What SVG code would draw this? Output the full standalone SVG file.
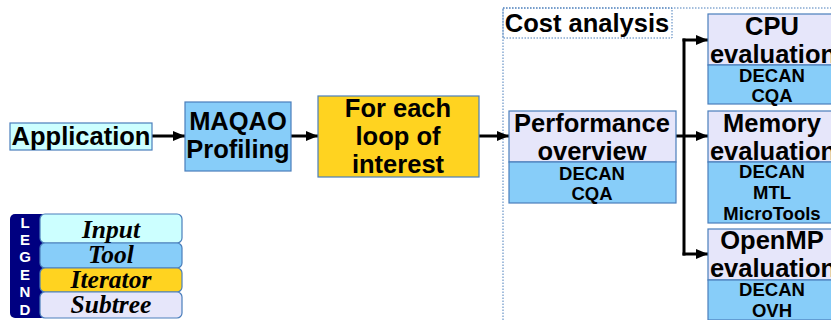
<svg xmlns="http://www.w3.org/2000/svg" width="831" height="320" viewBox="0 0 831 320">
<defs>
<marker id="ah" markerWidth="12" markerHeight="10" refX="12" refY="5" orient="auto" markerUnits="userSpaceOnUse"><path d="M0,0 L12,5 L0,10 z" fill="#000"/></marker>
<style>
.b{stroke:#4a7ebb;stroke-width:1.2}
.in{fill:#ccffff}.tool{fill:#87cdf9}.it{fill:#ffd320}.sub{fill:#e6e6fa}
.t{font-family:"Liberation Sans",Arial,sans-serif;font-weight:bold;fill:#000;text-anchor:middle}
.big{font-size:25.5px}.sm{font-size:18.5px}
.lg{font-family:"Liberation Serif","Times New Roman",serif;font-weight:bold;font-style:italic;font-size:25.5px;text-anchor:middle}
.lt{font-family:"Liberation Sans",Arial,sans-serif;font-weight:bold;font-size:15px;fill:#fff;text-anchor:middle}
.c{stroke:#000;stroke-width:3;fill:none}
.dot{stroke:#4a7ebb;stroke-width:1;stroke-dasharray:1.5 1.5;fill:none}
</style>
</defs>
<g id="cost-region">
<path class="dot" d="M503,320 V8 H831"/>
<rect class="dot" x="503" y="8" width="169" height="30"/>
<text class="t big" x="587" y="32">Cost analysis</text>
</g>
<g id="connectors">
<line class="c" x1="152" y1="136" x2="185" y2="136" marker-end="url(#ah)"/>
<line class="c" x1="291" y1="136" x2="318" y2="136" marker-end="url(#ah)"/>
<line class="c" x1="479" y1="136" x2="509" y2="136" marker-end="url(#ah)"/>
<path class="c" d="M676,136 H684"/>
<path class="c" d="M684,38.5 V255.5"/>
<line class="c" x1="682.5" y1="40" x2="708" y2="40" marker-end="url(#ah)"/>
<line class="c" x1="684" y1="136" x2="708" y2="136" marker-end="url(#ah)"/>
<line class="c" x1="682.5" y1="254" x2="708" y2="254" marker-end="url(#ah)"/>
</g>
<g id="application">
<rect class="b in" x="10" y="123" width="142" height="27"/>
<text class="t big" x="81" y="145">Application</text>
</g>
<g id="maqao-profiling">
<rect class="b tool" x="185" y="102" width="106" height="69"/>
<text class="t big" x="238" y="130">MAQAO</text>
<text class="t big" x="238" y="158">Profiling</text>
</g>
<g id="for-each-loop">
<rect class="b it" x="318" y="96" width="161" height="81"/>
<text class="t big" x="398" y="117">For each</text>
<text class="t big" x="398" y="145">loop of</text>
<text class="t big" x="398" y="173">interest</text>
</g>
<g id="performance-overview">
<rect class="b sub" x="509" y="111" width="167" height="51"/>
<rect class="b tool" x="509" y="162" width="167" height="41"/>
<text class="t big" x="592" y="132">Performance</text>
<text class="t big" x="592" y="160">overview</text>
<text class="t sm" x="592" y="180">DECAN</text>
<text class="t sm" x="592" y="200">CQA</text>
</g>
<g id="cpu-evaluation">
<rect class="b sub" x="708" y="14" width="130" height="51"/>
<rect class="b tool" x="708" y="65" width="130" height="39"/>
<text class="t big" x="772" y="35">CPU</text>
<text class="t big" x="773" y="63">evaluation</text>
<text class="t sm" x="772" y="82">DECAN</text>
<text class="t sm" x="772" y="102">CQA</text>
</g>
<g id="memory-evaluation">
<rect class="b sub" x="708" y="111" width="130" height="51"/>
<rect class="b tool" x="708" y="162" width="130" height="61"/>
<text class="t big" x="772" y="132">Memory</text>
<text class="t big" x="773" y="160">evaluation</text>
<text class="t sm" x="772" y="178">DECAN</text>
<text class="t sm" x="772" y="199">MTL</text>
<text class="t sm" x="772" y="220">MicroTools</text>
</g>
<g id="openmp-evaluation">
<rect class="b sub" x="708" y="229" width="130" height="51"/>
<rect class="b tool" x="708" y="280" width="130" height="40"/>
<text class="t big" x="772" y="249">OpenMP</text>
<text class="t big" x="773" y="277">evaluation</text>
<text class="t sm" x="772" y="296">DECAN</text>
<text class="t sm" x="772" y="317">OVH</text>
</g>
<g id="legend">
<rect x="10" y="214" width="36" height="104" rx="5" fill="#000080"/>
<text class="lt" x="25" y="228">L</text>
<text class="lt" x="25" y="245">E</text>
<text class="lt" x="25" y="262">G</text>
<text class="lt" x="25" y="280">E</text>
<text class="lt" x="25" y="297">N</text>
<text class="lt" x="25" y="315">D</text>
<rect class="b in" x="40" y="214" width="142" height="29" rx="5"/>
<rect class="b tool" x="40" y="243" width="142" height="25" rx="5"/>
<rect class="b it" x="40" y="268" width="142" height="24" rx="5"/>
<rect class="b sub" x="40" y="292" width="142" height="26" rx="5"/>
<text class="lg" x="111" y="238">Input</text>
<text class="lg" x="111" y="263">Tool</text>
<text class="lg" x="111" y="288">Iterator</text>
<text class="lg" x="111" y="313">Subtree</text>
</g>
</svg>
